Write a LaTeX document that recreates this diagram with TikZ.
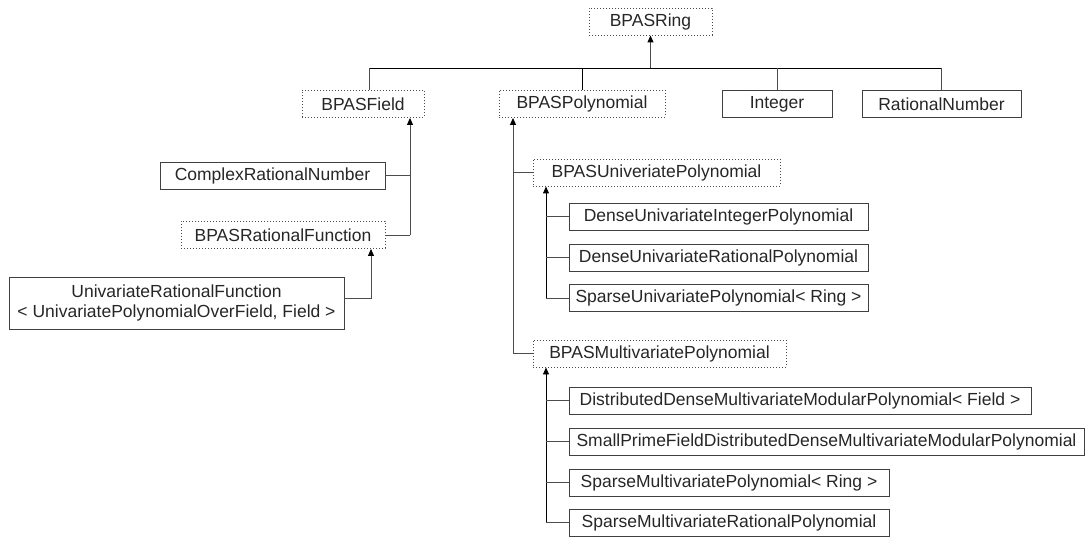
\documentclass[tikz,border=0pt]{standalone}
\usepackage{fontspec}
\setmainfont{Liberation Sans}
\usetikzlibrary{arrows.meta}

\begin{document}
\begin{tikzpicture}[x=1pt,y=-1pt,
    font=\fontsize{17.5}{20}\selectfont,
    klass/.style={draw=black!75,line width=0.9pt,minimum height=27pt,inner sep=0pt,text=black!85},
    iface/.style={klass,draw=black!70,dash pattern=on 1pt off 2pt},
    link/.style={draw=black!70,line width=0.9pt},
    isa/.style={link,-{Triangle[width=6pt,length=7pt,color=black]}}]
  \useasboundingbox (0,0) rectangle (1086,537);
  % top row
  \node[iface,minimum width=123pt] (ring) at (650.5,21.5) {BPASRing};
  \node[iface,minimum width=122pt] (field) at (363,104) {BPASField};
  \node[iface,minimum width=166pt] (poly) at (582,104) {BPASPolynomial};
  \node[klass,minimum width=110pt] (int) at (777,104) {Integer};
  \node[klass,minimum width=159pt] (ratnum) at (941.5,104) {RationalNumber};
  % field side
  \node[klass,minimum width=225pt] (cplx) at (272.5,175.5) {ComplexRationalNumber};
  \node[iface,minimum width=204pt] (ratfn) at (283,235) {BPASRationalFunction};
  \node[klass,minimum width=335pt,minimum height=52pt,align=center] (uniratfn) at (176.5,303)
    {UnivariateRationalFunction\\< UnivariatePolynomialOverField, Field >};
  % polynomial side
  \node[iface,minimum width=247pt] (upoly) at (656.5,172.5) {BPASUniveriatePolynomial};
  \node[klass,minimum width=299pt] (duip) at (718.5,216.5) {DenseUnivariateIntegerPolynomial};
  \node[klass,minimum width=299pt] (durp) at (718.5,257.5) {DenseUnivariateRationalPolynomial};
  \node[klass,minimum width=299pt] (sup) at (718.5,298) {SparseUnivariatePolynomial< Ring >};
  \node[iface,minimum width=253pt] (mpoly) at (659.5,353.5) {BPASMultivariatePolynomial};
  \node[klass,minimum width=462pt] (ddmmp) at (800,400.5) {DistributedDenseMultivariateModularPolynomial< Field >};
  \node[klass,minimum width=515pt] (spfddmmp) at (826.5,441.5) {SmallPrimeFieldDistributedDenseMultivariateModularPolynomial};
  \node[klass,minimum width=320pt] (smp) at (729,482.5) {SparseMultivariatePolynomial< Ring >};
  \node[klass,minimum width=320pt] (smrp) at (729,522.5) {SparseMultivariateRationalPolynomial};
  % bus under BPASRing
  \coordinate (busL) at (369,68);
  \draw[link,draw=black] (busL) -- (ratnum.north |- busL);
  \draw[isa] (ring.south |- busL) -- (ring.south);
  \draw[link] (busL) -- (busL |- field.north);
  \draw[link,draw=black] (poly.north |- busL) -- (poly.north);
  \draw[link] (int.north |- busL) -- (int.north);
  \draw[link] (ratnum.north |- busL) -- (ratnum.north);
  % trunks
  \coordinate (fd) at ([xshift=47pt]field.south);
  \coordinate (rfd) at ([xshift=88pt]ratfn.south);
  \coordinate (pd) at ([xshift=-69pt]poly.south);
  \coordinate (ud) at ([xshift=-110.5pt]upoly.south);
  \coordinate (md) at ([xshift=-113.5pt]mpoly.south);
  \draw[isa] (fd |- ratfn.east) -- (fd);
  \foreach \c in {cplx,ratfn} \draw[link] (\c.east) -- (fd |- \c.east);
  \draw[isa] ([yshift=5pt]uniratfn.east) -| (rfd);
  \draw[isa] (pd |- mpoly.west) -- (pd);
  \foreach \c in {upoly,mpoly} \draw[link] (\c.west) -- (pd |- \c.west);
  \draw[isa,draw=black] (ud |- sup.west) -- (ud);
  \foreach \c in {duip,durp,sup} \draw[link] (\c.west) -- (ud |- \c.west);
  \draw[isa,draw=black] (md |- smrp.west) -- (md);
  \foreach \c in {ddmmp,spfddmmp,smp,smrp} \draw[link] (\c.west) -- (md |- \c.west);
\end{tikzpicture}
\end{document}
